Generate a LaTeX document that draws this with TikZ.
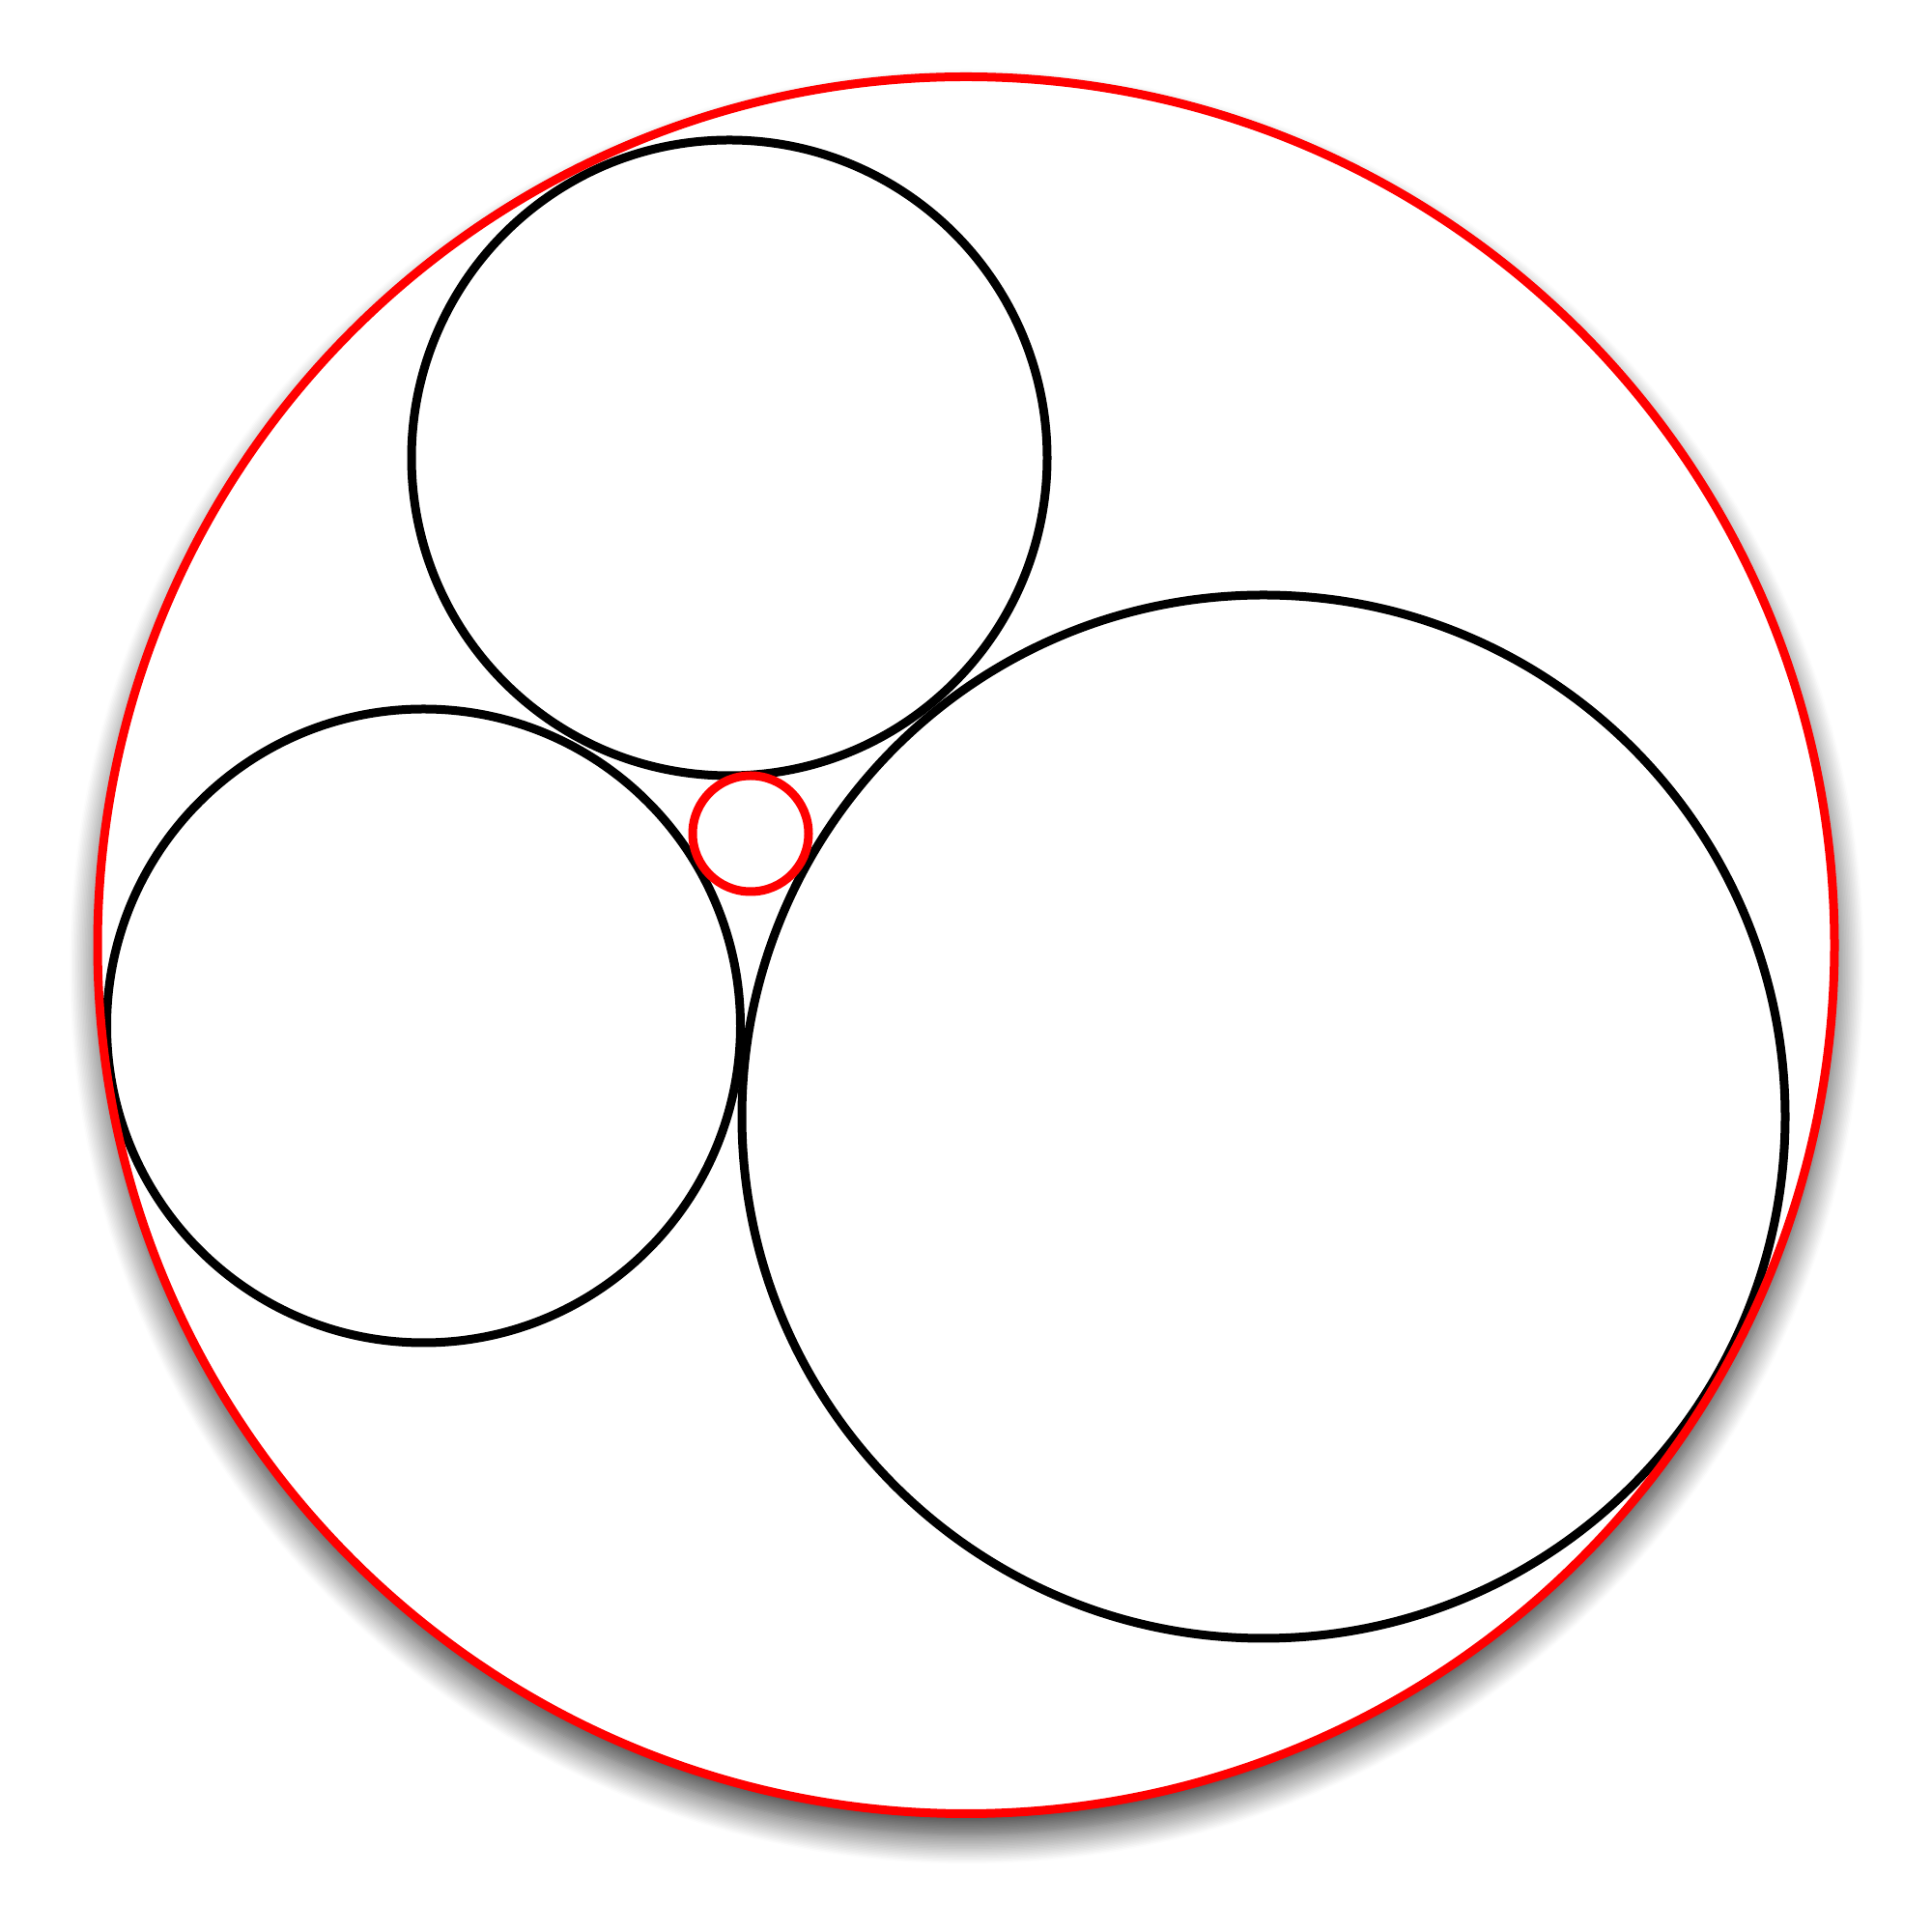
\documentclass[tikz,border=0pt]{standalone}
\usetikzlibrary{shadows.blur}
\tikzset{
  blackring/.style={draw=black, line width=0.09cm},
  redring/.style={draw=red, line width=0.09cm},
  outershadow/.style={fill=white, blur shadow={shadow xshift=0.01cm, shadow yshift=-0.22cm, shadow blur radius=0.3cm, shadow blur steps=20, shadow opacity=80}}
}
\begin{document}
\begin{tikzpicture}
\useasboundingbox (0,0) rectangle (20,20);
\coordinate (O) at (10.00,10.215);
\coordinate (T) at (7.55,15.26);
\coordinate (L) at (4.385,9.38);
\coordinate (B) at (13.08,8.44);
\coordinate (S) at (7.77,11.37);
% outer circle background with shadow
\path[outershadow] (O) circle (8.99);
% three black circles
\draw[blackring] (T) circle (3.29);
\draw[blackring] (L) circle (3.28);
\draw[blackring] (B) circle (5.40);
% outer red circle
\draw[redring] (O) circle (8.99);
% small red circle
\draw[redring] (S) circle (0.60);
\end{tikzpicture}
\end{document}
